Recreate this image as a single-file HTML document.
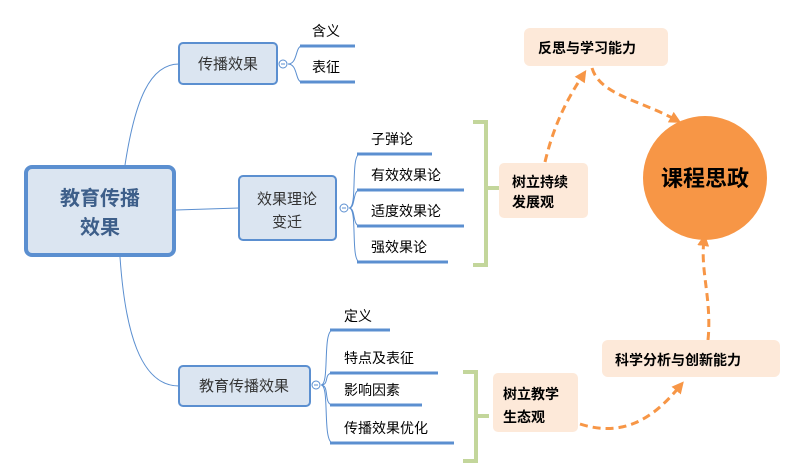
<!DOCTYPE html><html><head><meta charset="utf-8"><style>body{margin:0;background:#fff}svg{display:block}text{font-family:"Liberation Sans","Noto Sans CJK SC",sans-serif}</style></head><body>
<svg width="788" height="466" viewBox="0 0 788 466" xmlns="http://www.w3.org/2000/svg">
<defs><marker id="a" markerWidth="12" markerHeight="12" refX="6" refY="6" orient="auto" markerUnits="userSpaceOnUse"><path d="M0,0 L12,6 L0,12 z" fill="#f79646"/></marker></defs>
<g fill="none" stroke="#5b8fd0" stroke-width="1">
<path d="M125,165 C135,100 150,64 179,64"/>
<path d="M176,210 L239,208"/>
<path d="M120,257 C125,330 140,386 179,386"/>
<path d="M288,64 C298,64 295,46 302,46 M288,64 C298,64 295,82 302,82"/>
<path d="M349,208 C358,208 350,154 360,154 M349,208 C356,208 352,190 360,190 M349,208 C356,208 352,226 360,226 M349,208 C358,208 350,262 360,262"/>
<path d="M321,385 C330,385 322,330 333,330 M321,385 C330,385 323,373 333,373 M321,385 C330,385 323,405 333,405 M321,385 C330,385 322,443 333,443"/>
</g>
<g fill="#fff" stroke="#5b8fd0" stroke-width="1"><circle cx="283" cy="64" r="4"/><circle cx="344" cy="208" r="4"/><circle cx="316" cy="385" r="4"/></g>
<g stroke="#5b8fd0" stroke-width="1"><path d="M281,64h4M342,208h4M314,385h4"/></g>
<g stroke="#5b8fd0" stroke-width="3">
<path d="M300,46h55M300,82h55M357,154h75M357,190h107M357,226h107M357,262h91M330,330h60M330,373h108M330,405h92M330,443h124"/>
</g>
<rect x="26" y="167" width="148" height="88" rx="6" fill="#dbe5f1" stroke="#5b8fd0" stroke-width="4"/>
<rect x="179" y="43" width="98" height="41" rx="4" fill="#dbe5f1" stroke="#5b8fd0" stroke-width="2"/>
<rect x="239" y="176" width="97" height="64" rx="4" fill="#dbe5f1" stroke="#5b8fd0" stroke-width="2"/>
<rect x="179" y="366" width="131" height="40" rx="4" fill="#dbe5f1" stroke="#5b8fd0" stroke-width="2"/>
<g font-size="20" font-weight="bold" fill="#3e5f8a" text-anchor="middle"><text x="100" y="205">教育传播</text><text x="100" y="234">效果</text></g>
<g font-size="15" fill="#333" text-anchor="middle"><text x="228" y="69">传播效果</text><text x="287" y="204">效果理论</text><text x="287" y="227">变迁</text><text x="244" y="391">教育传播效果</text></g>
<g font-size="14" fill="#000"><text x="312" y="36">含义</text><text x="312" y="72">表征</text><text x="371" y="144">子弹论</text><text x="371" y="180">有效效果论</text><text x="371" y="216">适度效果论</text><text x="371" y="252">强效果论</text><text x="344" y="321">定义</text><text x="344" y="363">特点及表征</text><text x="344" y="395">影响因素</text><text x="344" y="433">传播效果优化</text></g>
<g fill="none" stroke="#c3d69b" stroke-width="4"><path d="M473,122h13v143h-13M486,188h14"/><path d="M463,372h13v89h-13M476,416h13"/></g>
<circle cx="705" cy="178" r="62" fill="#f79646"/>
<text x="705" y="186" font-size="22" font-weight="bold" fill="#000" text-anchor="middle">课程思政</text>
<g fill="none" stroke="#f79646" stroke-width="3" stroke-dasharray="8,5">
<path d="M545,162 C555,120 570,95 583,75" marker-end="url(#a)"/>
<path d="M592,68 C600,95 640,100 676,120" marker-end="url(#a)"/>
<path d="M580,424 C630,440 660,410 680,386" marker-end="url(#a)"/>
<path d="M708,340 C712,300 700,270 704,240" marker-end="url(#a)"/>
</g>
<g fill="#fde9d9"><rect x="499" y="163" width="89" height="55" rx="5"/><rect x="493" y="373" width="85" height="59" rx="5"/><rect x="524" y="28" width="144" height="38" rx="6"/><rect x="602" y="340" width="178" height="37" rx="6"/></g>
<g font-size="14" font-weight="bold" fill="#000"><text x="512" y="187">树立持续</text><text x="512" y="207">发展观</text><text x="503" y="399">树立教学</text><text x="503" y="422">生态观</text><text x="538" y="53">反思与学习能力</text><text x="615" y="365">科学分析与创新能力</text></g>
</svg></body></html>
